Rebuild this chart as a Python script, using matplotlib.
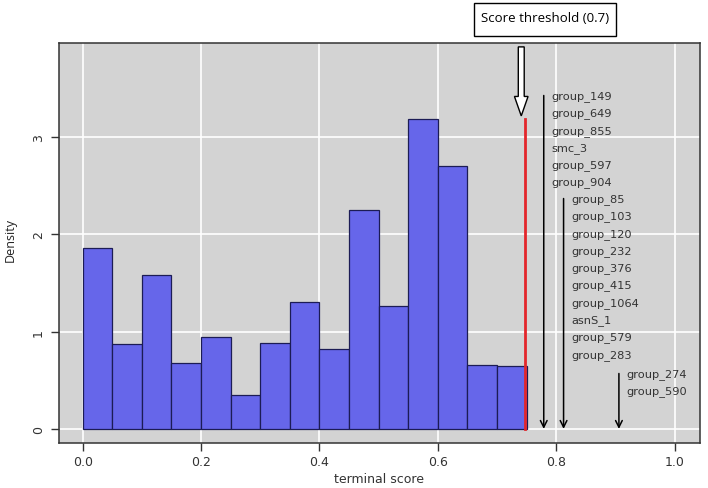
import numpy as np
import matplotlib
matplotlib.use("Agg")
import matplotlib.pyplot as plt
from matplotlib.patches import Rectangle, FancyArrow

# histogram of terminal scores (density, bin width 0.05)
bin_edges = [0.00, 0.05, 0.10, 0.15, 0.20, 0.25, 0.30, 0.35,
             0.40, 0.45, 0.50, 0.55, 0.60, 0.65, 0.70, 0.75]
density = [1.86, 0.87, 1.58, 0.68, 0.945, 0.35, 0.88, 1.31,
           0.825, 2.25, 1.265, 3.19, 2.70, 0.66, 0.65]

threshold_x = 0.748
threshold_label = "Score threshold (0.7)"

# gene groups pointed at by arrows
arrow_x = [0.779, 0.8125, 0.906]
arrow_top = [3.43, 2.37, 0.57]
arrow_genes = [
    ["group_149", "group_649", "group_855", "smc_3", "group_597", "group_904"],
    ["group_85", "group_103", "group_120", "group_232", "group_376", "group_415",
     "group_1064", "asnS_1", "group_579", "group_283"],
    ["group_274", "group_590"],
]

fig = plt.figure(figsize=(7.08, 4.89), dpi=100)
ax = fig.add_axes([59 / 708, 45 / 489, 641 / 708, 400 / 489])
ax.set_facecolor("#d3d3d3")
ax.set_xlim(-0.04, 1.043)
ax.set_ylim(-0.145, 3.97)

# grid
for gx in np.arange(0, 1.01, 0.2):
    ax.axvline(gx, color="white", lw=1.2, zorder=1)
for gy in range(4):
    ax.axhline(gy, color="white", lw=1.2, zorder=1)

widths = np.diff(bin_edges)
ax.bar(bin_edges[:-1], density, width=widths, align="edge",
       color="#6666ea", edgecolor="#1c1c55", linewidth=0.9, zorder=2)

# threshold line + white arrow
ax.plot([threshold_x, threshold_x], [0, max(density)], color="#e3262b", lw=2, zorder=3)
ax.add_patch(FancyArrow(0.741, 3.93, 0, -0.71, width=0.010, head_width=0.023,
                        head_length=0.20, length_includes_head=True,
                        fc="white", ec="black", lw=1, zorder=4))

# gene arrows and labels
row_h = 0.178
for xa, top, genes in zip(arrow_x, arrow_top, arrow_genes):
    ax.annotate("", xy=(xa, 0), xytext=(xa, top),
                arrowprops=dict(arrowstyle="->", color="black", lw=1.1,
                                mutation_scale=12, shrinkA=0, shrinkB=0),
                zorder=4)
    for k, g in enumerate(genes):
        ax.text(xa + 0.013, top - k * row_h, g, fontsize=8.2, color="#333333",
                va="center", ha="left", zorder=5)

for s in ax.spines.values():
    s.set_color("#333333")
    s.set_linewidth(1.1)

ax.set_xticks(np.arange(0, 1.01, 0.2))
ax.set_xticklabels(["0.0", "0.2", "0.4", "0.6", "0.8", "1.0"])
ax.set_yticks([0, 1, 2, 3])
ax.set_yticklabels(["0", "1", "2", "3"], rotation=90, va="center")
ax.tick_params(axis="both", colors="#333333", labelsize=9, length=6, width=1)
ax.tick_params(axis="x", pad=3)
ax.tick_params(axis="y", pad=4)

fig.text(379 / 708, 1 - 480 / 489, "terminal score", fontsize=9, color="#333333",
         ha="center", va="center")
fig.text(10 / 708, 1 - 240 / 489, "Density", rotation=90, fontsize=9,
         family="Open Sans", color="#222222", ha="center", va="center")

# threshold label box (outside the plot)
fig.patches.append(Rectangle((474 / 708, 1 - 37 / 489), 142 / 708, 33 / 489,
                             transform=fig.transFigure, fc="white", ec="black", lw=1))
fig.text(545 / 708, 1 - 19 / 489, threshold_label, fontsize=9.5, family="Open Sans",
         color="black", ha="center", va="center")

fig.savefig("out.png", dpi=100)
